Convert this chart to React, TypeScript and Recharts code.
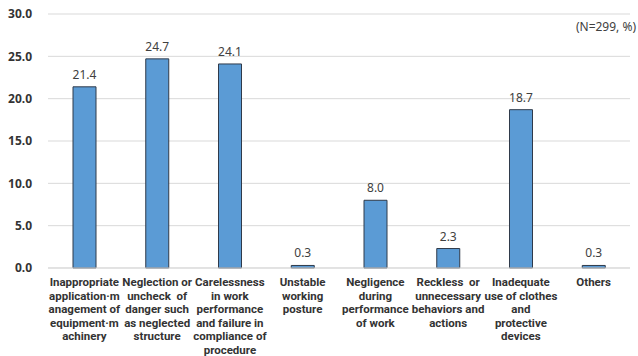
import { BarChart, Bar, XAxis, YAxis, CartesianGrid, LabelList } from 'recharts'

// category labels, already broken into the lines they wrap to
const categories: string[][] = [
  ['Inappropriate', 'application·m', 'anagement of', 'equipment·m', 'achinery'],
  ['Neglection or', 'uncheck  of', 'danger such', 'as neglected', 'structure'],
  ['Carelessness', 'in work', 'performance', 'and failure in', 'compliance of', 'procedure'],
  ['Unstable', 'working', 'posture'],
  ['Negligence', 'during', 'performance', 'of work'],
  ['Reckless  or', 'unnecessary', 'behaviors and', 'actions'],
  ['Inadequate', 'use of clothes', 'and', 'protective', 'devices'],
  ['Others'],
]
const percents = [21.4, 24.7, 24.1, 0.3, 8.0, 2.3, 18.7, 0.3]
const yTicks = [0, 5, 10, 15, 20, 25, 30]

const chartData = categories.map((lines, i) => ({
  name: lines.join(' '),
  idx: i,
  value: percents[i],
}))

const FONT = '"Noto Sans", "Open Sans", sans-serif'
const LABEL_FONT = 'Roboto, "Noto Sans", sans-serif'

const CategoryTick = ({ x, y, payload }: { x?: number; y?: number; payload?: { value: number } }) => {
  const lines = categories[payload?.value ?? 0]
  return (
    <text
      x={x}
      y={(y ?? 0) + 18}
      textAnchor="middle"
      fontFamily={LABEL_FONT}
      fontSize={11.5}
      fontWeight={700}
      fill="#333333"
    >
      {lines.map((line, i) => (
        <tspan key={i} x={x} dy={i === 0 ? 0 : 13.6} style={{ whiteSpace: 'pre' }}>
          {line}
        </tspan>
      ))}
    </text>
  )
}

export default function App() {
  return (
    <div style={{ position: 'absolute', left: 0, top: 0, width: 638, height: 356, background: '#fff' }}>
      <BarChart
        width={638}
        height={356}
        data={chartData}
        margin={{ top: 14, right: 8, left: 0, bottom: 0 }}
      >
        <CartesianGrid vertical={false} stroke="#d9d9d9" />
        <XAxis
          dataKey="idx"
          axisLine={{ stroke: '#d9d9d9' }}
          tickLine={false}
          tickSize={0}
          tickMargin={0}
          height={88}
          interval={0}
          tick={<CategoryTick />}
        />
        <YAxis
          domain={[0, 30]}
          ticks={yTicks}
          width={48}
          axisLine={false}
          tickLine={false}
          tickMargin={10}
          tickFormatter={(v: number) => v.toFixed(1)}
          tick={{ fontFamily: FONT, fontSize: 12, fontWeight: 700, fill: '#333333' }}
        />
        <Bar dataKey="value" fill="#5b9bd5" stroke="#2f3a4a" strokeWidth={1} barSize={23} isAnimationActive={false}>
          <LabelList
            dataKey="value"
            position="top"
            offset={8}
            formatter={(v: number) => v.toFixed(1)}
            style={{ fontFamily: FONT, fontSize: 12, fill: '#404040' }}
          />
        </Bar>
      </BarChart>
      <div
        style={{
          position: 'absolute',
          right: 2,
          top: 18,
          fontFamily: FONT,
          fontSize: 12,
          color: '#404040',
          lineHeight: '18px',
        }}
      >
        (N=299, %)
      </div>
    </div>
  )
}
